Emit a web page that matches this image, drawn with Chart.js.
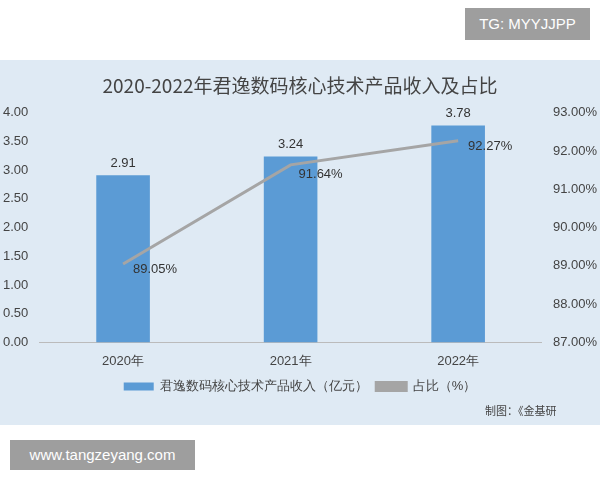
<!DOCTYPE html>
<html><head><meta charset="utf-8">
<script src="https://cdn.jsdelivr.net/npm/chart.js@4"></script>
<style>
body{margin:0;width:600px;height:480px;background:#fff;position:relative;font-family:"Noto Sans CJK SC",sans-serif;overflow:hidden}
#wrap{position:absolute;left:0;top:60px;width:600px;height:365px;background:#dfeaf4}
#tg{position:absolute;left:465px;top:8px;width:125px;height:32px;background:#9e9e9e;color:#fff;font:15px "Liberation Sans",sans-serif;line-height:32px;text-align:center}
#www{position:absolute;left:10px;top:440px;width:185px;height:30px;background:#9e9e9e;color:#fff;font:15px "Liberation Sans",sans-serif;line-height:30px;text-align:center}
#src{position:absolute;left:485px;top:402px;font-size:11px;color:#444}
</style></head><body>
<div id="wrap"><canvas id="c"></canvas></div>
<div id="tg">TG: MYYJJPP</div>
<div id="www">www.tangzeyang.com</div>
<div id="src">制图：《金基研</div>
<script>
const categories=["2020年","2021年","2022年"];
const revenue=[2.91,3.24,3.78];
const share=[89.05,91.64,92.27];
const lbl={id:'lbl',afterDatasetsDraw(ch){const x=ch.ctx;x.save();x.font='13px "Liberation Sans",sans-serif';x.fillStyle='#333';x.textAlign='center';
ch.getDatasetMeta(0).data.forEach((b,i)=>x.fillText(revenue[i].toFixed(2),b.x,b.y-12));
const off=[[32,5],[30,10],[32,6]];
ch.getDatasetMeta(1).data.forEach((p,i)=>x.fillText(share[i].toFixed(2)+'%',p.x+off[i][0],p.y+off[i][1]));
x.restore();}};
new Chart(document.getElementById('c'),{data:{labels:categories,datasets:[
{type:'bar',label:'君逸数码核心技术产品收入（亿元）',data:revenue,backgroundColor:'#5b9bd5',yAxisID:'y',barPercentage:0.32,categoryPercentage:1,order:2},
{type:'line',label:'占比（%）',data:share,borderColor:'#a5a5a5',backgroundColor:'#a5a5a5',borderWidth:3,pointRadius:0,yAxisID:'y1',order:1}]},
options:{responsive:true,maintainAspectRatio:false,animation:false,
layout:{padding:{left:0,right:0,top:0,bottom:22}},
plugins:{title:{display:true,text:'2020-2022年君逸数码核心技术产品收入及占比',font:{size:19,weight:'normal',family:'"Noto Sans CJK SC"'},color:'#444',padding:{top:14,bottom:16}},
legend:{position:'bottom',labels:{sort:(a,b)=>a.datasetIndex-b.datasetIndex,boxWidth:30,boxHeight:8,font:{size:13},color:'#444',padding:8}},tooltip:{enabled:false}},
scales:{x:{grid:{display:false},ticks:{color:'#444',font:{size:13}},border:{color:'#bbb'}},
y:{min:0,max:4,ticks:{stepSize:0.5,callback:v=>v.toFixed(2),color:'#444',font:{size:13}},grid:{display:false},border:{display:false}},
y1:{position:'right',min:87,max:93,ticks:{stepSize:1,callback:v=>v.toFixed(2)+'%',color:'#444',font:{size:13}},grid:{display:false},border:{display:false}}}},
plugins:[lbl]});
</script></body></html>
